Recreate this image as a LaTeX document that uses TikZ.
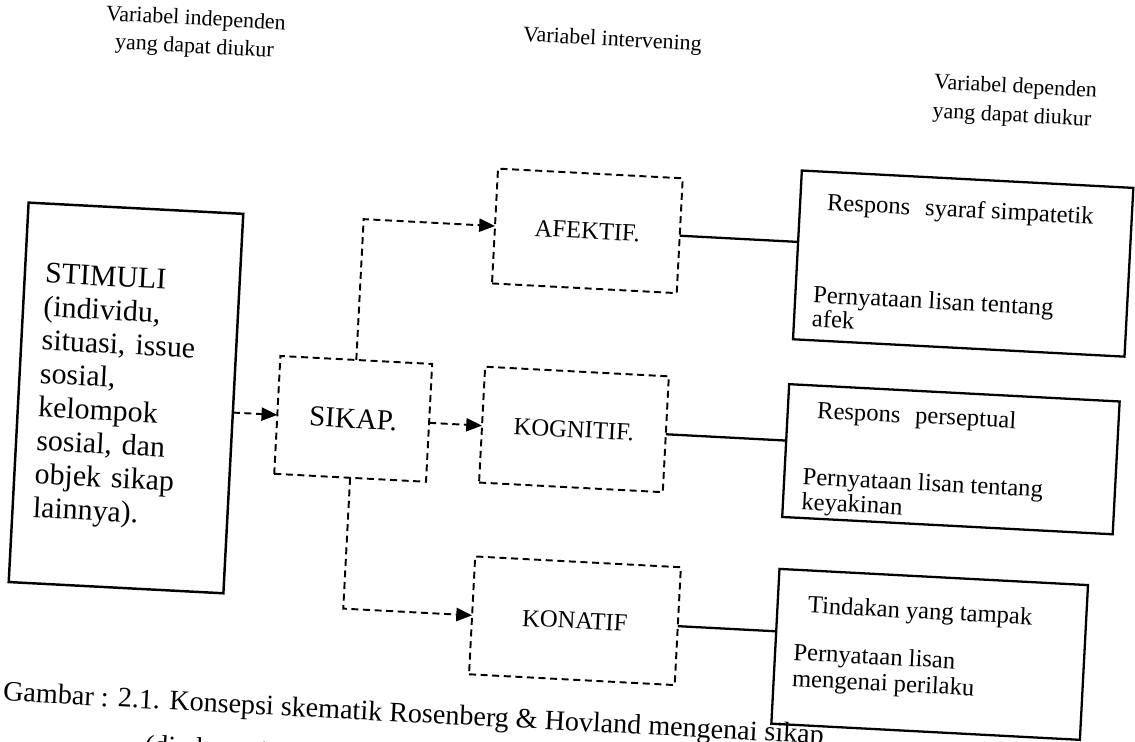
\documentclass[tikz,border=0pt]{standalone}
\usepackage{fontspec}
\setmainfont{Liberation Serif}
\usetikzlibrary{arrows.meta,calc}
\begin{document}
\begin{tikzpicture}[x=0.02cm, y=-0.02cm,
  every node/.style={inner sep=0pt, outer sep=0pt},
  stimbox/.style={draw, line width=1.4pt, minimum width=4.3cm, minimum height=7.6cm,
    text width=3.48cm, align=left, font=\fontsize{17}{19.1}\selectfont},
  dbox/.style={draw, dash pattern=on 4pt off 2.6pt, line width=1.1pt,
    font=\fontsize{14}{16}\selectfont},
  rbox/.style={draw, line width=1.3pt},
  rtext/.style={anchor=base west, font=\fontsize{14}{16}\selectfont},
  head/.style={anchor=base, font=\fontsize{12.5}{15}\selectfont},
  captext/.style={anchor=base west, font=\fontsize{16}{18}\selectfont},
  darrow/.style={dash pattern=on 4pt off 2.6pt, line width=1.1pt,
    -{Triangle[length=9pt,width=7.5pt]}},
  link/.style={line width=1.3pt}]
\useasboundingbox (0,0) rectangle (1135,742);
\clip (0,0) rectangle (1135,742);
\begin{scope}[transform canvas={rotate around={-3:(567,371)}}]
  % headings
  \node[head] (h1a) at (178,45) {Variabel independen};
  \node[head] (h1b) at (178,73) {yang dapat diukur};
  \node[head] (h2) at (595,44) {Variabel intervening};
  \node[head] (h3a) at (1000,70) {Variabel dependen};
  \node[head] (h3b) at (998,99) {yang dapat diukur};
  % stimulus
  \node[stimbox] (stim) at (128,421) {STIMULI\\(individu,\\situasi, issue\\sosial,\\kelompok\\sosial, dan\\objek sikap\\lainnya).};
  % intervening
  \node[dbox, minimum width=3.04cm, minimum height=2.36cm, font=\fontsize{16.5}{18}\selectfont] (sikap) at (356,430) {SIKAP.};
  \node[dbox, minimum width=3.70cm, minimum height=2.30cm] (afek) at (580,230) {AFEKTIF.};
  \node[dbox, minimum width=3.68cm, minimum height=2.32cm] (kog) at (577,429) {KOGNITIF.};
  \node[dbox, minimum width=4.12cm, minimum height=2.36cm] (kon) at (588,620) {KONATIF};
  % dependent boxes
  \node[rbox, minimum width=6.64cm, minimum height=3.38cm] (r1) at (957,243) {};
  \node[rbox, minimum width=6.62cm, minimum height=2.66cm] (r2) at (955,439) {};
  \node[rbox, minimum width=6.18cm, minimum height=3.10cm] (r3) at (944,635) {};
  \node[rtext] (r1a) at (818,197) {Respons\hspace{0.6em}syaraf simpatetik};
  \node[rtext] (r1b) at (809,290) {Pernyataan lisan tentang};
  \node[rtext] (r1c) at (809,314) {afek};
  \node[rtext] (r2a) at (819,405) {Respons\hspace{0.6em}perseptual};
  \node[rtext] (r2b) at (808,472) {Pernyataan lisan tentang};
  \node[rtext] (r2c) at (808,497) {keyakinan};
  \node[rtext] (r3a) at (820,600) {Tindakan yang tampak};
  \node[rtext] (r3b) at (808,648) {Pernyataan lisan};
  \node[rtext] (r3c) at (808,674) {mengenai perilaku};
  % caption
  \node[captext] (cap1) at (21,730) {Gambar : 2.1. Konsepsi skematik Rosenberg \& Hovland mengenai sikap};
  \node[captext] (cap2) at (165,776) {(diadaptasi dari Fishbein};
  % connectors
  \draw[darrow] (stim.east |- sikap.west) -- (sikap.west);
  \draw[darrow] (sikap.east) -- (sikap.east -| kog.west);
  \draw[darrow] (sikap.north) |- (afek.west);
  \draw[darrow] (sikap.south) |- (kon.west);
  \draw[link] (afek.east) -- (afek.east -| r1.west);
  \draw[link] (kog.east) -- (kog.east -| r2.west);
  \draw[link] (kon.east) -- (kon.east -| r3.west);
\end{scope}
\end{tikzpicture}
\end{document}
